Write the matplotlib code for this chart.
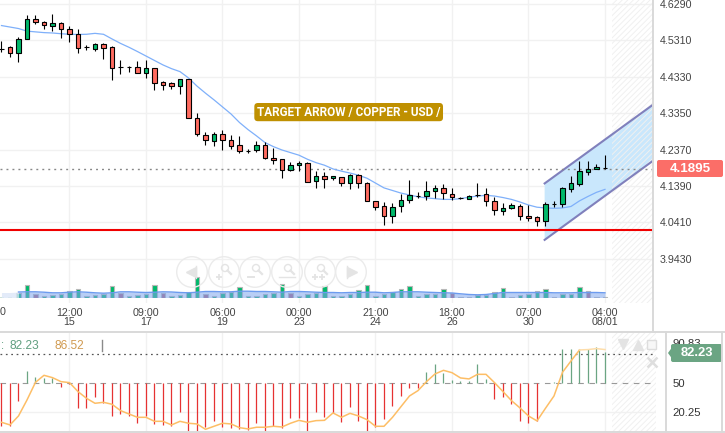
import matplotlib
matplotlib.use('Agg')
import matplotlib.pyplot as plt
from matplotlib.patches import Circle, FancyBboxPatch, Polygon, Rectangle

plt.rcParams['font.family'] = ['Liberation Sans', 'DejaVu Sans']
plt.rcParams['hatch.linewidth'] = 0.7

W, H = 725, 433

# candles, oldest first. upper/lower = body edges, doji have upper == lower
upper = [4.508, 4.513, 4.534, 4.588, 4.588, 4.580, 4.577, 4.577, 4.561, 4.548, 4.513, 4.521,
         4.521, 4.513, 4.459, 4.459, 4.459, 4.456, 4.456, 4.418, 4.416, 4.426, 4.426, 4.321,
         4.276, 4.278, 4.278, 4.262, 4.249, 4.233, 4.249, 4.249, 4.214, 4.211, 4.195, 4.200,
         4.200, 4.165, 4.165, 4.165, 4.163, 4.168, 4.168, 4.146, 4.098, 4.084, 4.082, 4.101,
         4.114, 4.113, 4.125, 4.133, 4.133, 4.117, 4.108, 4.111, 4.114, 4.117, 4.098, 4.079,
         4.087, 4.084, 4.058, 4.055, 4.090, 4.090, 4.133, 4.146, 4.179, 4.184, 4.189, 4.187]
lower = [4.508, 4.496, 4.496, 4.534, 4.580, 4.572, 4.571, 4.561, 4.548, 4.511, 4.513, 4.509,
         4.511, 4.456, 4.459, 4.459, 4.443, 4.443, 4.416, 4.412, 4.408, 4.408, 4.321, 4.278,
         4.262, 4.259, 4.262, 4.246, 4.233, 4.233, 4.235, 4.214, 4.208, 4.181, 4.181, 4.195,
         4.149, 4.152, 4.157, 4.160, 4.146, 4.146, 4.146, 4.098, 4.082, 4.058, 4.058, 4.084,
         4.101, 4.113, 4.111, 4.125, 4.119, 4.109, 4.108, 4.103, 4.114, 4.098, 4.074, 4.071,
         4.079, 4.058, 4.052, 4.044, 4.044, 4.090, 4.090, 4.130, 4.144, 4.176, 4.184, 4.187]
highs = [4.529, 4.516, 4.539, 4.599, 4.599, 4.584, 4.601, 4.581, 4.569, 4.561, 4.518, 4.524,
         4.524, 4.516, 4.478, 4.462, 4.475, 4.479, 4.456, 4.422, 4.418, 4.426, 4.426, 4.336,
         4.284, 4.284, 4.289, 4.276, 4.273, 4.238, 4.259, 4.257, 4.241, 4.211, 4.203, 4.206,
         4.203, 4.179, 4.176, 4.165, 4.163, 4.171, 4.171, 4.149, 4.098, 4.095, 4.093, 4.117,
         4.154, 4.122, 4.152, 4.141, 4.144, 4.133, 4.110, 4.114, 4.146, 4.133, 4.109, 4.093,
         4.093, 4.090, 4.087, 4.058, 4.095, 4.098, 4.136, 4.165, 4.206, 4.206, 4.198, 4.222]
lows = [4.500, 4.486, 4.474, 4.534, 4.575, 4.563, 4.555, 4.538, 4.528, 4.498, 4.505, 4.503,
        4.481, 4.424, 4.441, 4.446, 4.443, 4.430, 4.398, 4.398, 4.401, 4.387, 4.321, 4.274,
        4.249, 4.247, 4.237, 4.240, 4.227, 4.227, 4.231, 4.211, 4.198, 4.160, 4.179, 4.179,
        4.149, 4.133, 4.133, 4.154, 4.138, 4.130, 4.133, 4.098, 4.074, 4.033, 4.039, 4.068,
        4.093, 4.106, 4.101, 4.106, 4.103, 4.101, 4.103, 4.103, 4.109, 4.084, 4.060, 4.060,
        4.076, 4.047, 4.044, 4.031, 4.031, 4.082, 4.082, 4.122, 4.138, 4.168, 4.184, 4.184]
rising = [2, 3, 6, 11, 17, 21, 25, 30, 34, 35, 37, 39, 41, 46, 47, 48, 50, 51, 55, 59, 60,
          64, 66, 67, 68, 69, 70]

price_ma = [4.571, 4.567, 4.563, 4.556, 4.554, 4.552, 4.551, 4.549, 4.5475, 4.547, 4.5475, 4.550,
            4.5475, 4.535, 4.523, 4.5125, 4.501, 4.489, 4.477, 4.465, 4.455, 4.447, 4.430, 4.408,
            4.389, 4.371, 4.352, 4.333, 4.310, 4.291, 4.274, 4.256, 4.245, 4.236, 4.229, 4.222,
            4.211, 4.202, 4.195, 4.185, 4.179, 4.174, 4.168, 4.160, 4.147, 4.134, 4.127, 4.120,
            4.115, 4.110, 4.107, 4.105, 4.103, 4.103, 4.105, 4.109, 4.112, 4.114, 4.112, 4.108,
            4.103, 4.096, 4.088, 4.082, 4.080, 4.079, 4.080, 4.084, 4.099, 4.111, 4.122, 4.130]

volume = [0.8, 0.8, 4.7, 12.7, 4, 1.3, 2.3, 3.3, 6.7, 8.3, 1.3, 2.3, 3.3, 11.3, 4.7, 1.3, 2.3, 4,
          12.7, 4.7, 1.3, 2.3, 6, 20.7, 4, 1.3, 4.7, 5.3, 10.3, 1.3, 1.3, 3.3, 4.7, 13.3, 4.7, 1.3,
          3.3, 4.7, 11.7, 1.3, 1.3, 3.3, 7.3, 12.7, 1.3, 4, 5.7, 8.3, 11.7, 1.3, 3.3, 3.3, 8.3, 5,
          1, 1, 3, 2.3, 5.7, 9.3, 1, 2.7, 3.3, 6.3, 8.3, 1, 3.3, 4, 10.3, 6.7, 1, 1]
mauve_bars = [4, 14, 19, 24, 34, 53, 69]
vol_ma = [5, 5, 5.5, 5.7, 5.7, 5.3, 4.7, 4.7, 5.3, 5.7, 5.3, 4.7, 4.3, 4.7, 5.7, 5.7, 5.3, 5, 5.3, 5.7,
          5.5, 5, 4.7, 5.3, 6, 6, 5.7, 5.7, 6.3, 6.3, 6, 6, 5.7, 5.3, 6, 6, 5.7, 5.3, 5, 5,
          4.7, 5, 5, 5.3, 5.3, 4.7, 5, 5.7, 5.7, 5.7, 5.3, 5, 4.7, 4.5, 3.7, 3, 2.7, 3, 4, 5,
          5, 5, 5, 5, 5, 4.7, 4.7, 4.7, 5, 5, 5, 4.7]

osc_hist = [6.6, 6.6, 32.2, 62.7, 56.9, 55.1, 55.8, 46.6, 49.3, 25, 25, 36.3, 29.5, 16.8, 18.2, 16.8,
            9, 16.5, 8, 7.3, 6.6, 20.3, 1.4, 1.4, 4.9, 11.7, 4.9, 3.8, 2.8, 2.1, 9, 1.4, 6.2, 3.8,
            14.1, 14.8, 1.1, 20.3, 15.8, 19.2, 10, 26.1, 11.7, 0.6, 5.5, 13.1, 27.1, 37.4, 44.9, 45.6,
            61.3, 69.5, 60.6, 53.4, 52.4, 52.4, 69.5, 54.1, 33.6, 36.3, 28.5, 11.7, 9, 11.4, 50.7, 51,
            85.2, 85.2, 85.2, 85.2, 87.6, 82.23]
osc_line = [10, 7.3, 16.5, 32.9, 51, 58.2, 55.8, 51.7, 50.7, 41.5, 34.6, 29.5, 30.5, 28.5, 22, 18.5,
            15.1, 15.1, 11, 11, 7.3, 11, 9, 8.3, 2.8, 5.9, 9, 8.3, 4.5, 3.2, 4.9, 4.9, 5.9, 5.2,
            9, 12, 10, 11.7, 12, 19.6, 15.1, 19.2, 16.5, 12.7, 5.9, 5.9, 15.1, 26.1, 37, 42.5,
            51.7, 59.6, 63.3, 60.9, 55.5, 54.5, 59.2, 59.2, 50.7, 41.5, 32.2, 24.7, 16.5, 11.4, 24.4, 37,
            61.3, 72.9, 84.2, 84.6, 85.6, 84.6]

price_ticks = [4.6290, 4.5310, 4.4330, 4.3350, 4.2370, 4.1390, 4.0410, 3.9430]
time_ticks = [8, 17, 26, 35, 44, 53, 62, 71]
time_labels = ['12:00\n15', '09:00\n17', '06:00\n19', '00:00\n23', '21:00\n24', '18:00\n26', '07:00\n30',
               '04:00\n08/01']
osc_ticks = [90.83, 50, 20.25]

last_price = 4.1895
support = 4.021
channel_upper = [(63.9, 4.146), (76.65, 4.358)]
channel_lower = [(76.65, 4.207), (63.9, 3.994)]

GREEN, RED = '#00B96B', '#FF6B60'
GRID = '#F1F1F1'
BORDER = '#D9D9D9'
TEXT = '#444444'
BTN = '#E4E4E4'


def px_axes(fig, x0, y0, x1, y1):
    # rectangle given in image pixels, y going down
    return fig.add_axes([x0 / W, 1 - y1 / H, (x1 - x0) / W, (y1 - y0) / H])


fig = plt.figure(figsize=(W / 100, H / 100), dpi=100)
xs = list(range(len(upper)))

# price panel
ax = px_axes(fig, 0, 0, 653, 303)
ax.set_xlim(-0.176, 76.65)
ax.set_ylim(3.8241, 4.6398)
for s in ax.spines.values():
    s.set_visible(False)
ax.yaxis.tick_right()
ax.set_yticks(price_ticks, [f'{t:.4f}' for t in price_ticks])
ax.set_xticks(time_ticks, time_labels)
ax.tick_params(length=0, labelsize=7.7, labelcolor=TEXT)
ax.tick_params(axis='y', pad=5)
ax.tick_params(axis='x', pad=3.5)
for t in ax.get_xticklabels():
    t.set_linespacing(0.95)
ax.grid(color=GRID, linewidth=1)
ax.set_axisbelow(True)

ax.add_patch(Polygon(channel_upper + channel_lower, closed=True, facecolor='#C9E7FC', edgecolor='none', zorder=1))
ax.plot(*zip(*channel_upper), color='#8080BC', linewidth=1.5, zorder=2)
ax.plot(*zip(*channel_lower), color='#8080BC', linewidth=1.5, zorder=2)
ax.add_patch(Rectangle((71.8, 3.8241), 4.85, 0.82, facecolor='none', edgecolor='#F0F0F0', hatch='//////',
                       linewidth=0, zorder=1.5))

ax.axhline(4.185, color='#888888', linewidth=1, linestyle=(0, (1.4, 2.9)), zorder=2)
ax.plot(xs, price_ma, color='#7FB0FA', linewidth=0.9, zorder=2.5)
ax.vlines(xs, lows, highs, color='black', linewidth=0.8, zorder=3)
colors = [GREEN if i in rising else RED for i in xs]
ax.bar(xs, [u - l for u, l in zip(upper, lower)], bottom=lower, width=0.55, color=colors,
       edgecolor='black', linewidth=0.8, zorder=4)
ax.axhline(support, color='#F00000', linewidth=1.5, zorder=5)
ax.text(30.05, 4.338, 'TARGET ARROW / COPPER - USD /', color='white', fontsize=8.5, fontweight='bold',
        family='Roboto', ha='left', va='center', zorder=6,
        bbox=dict(boxstyle='round,pad=0.22,rounding_size=0.3', facecolor='#BF9000', edgecolor='none'))

# volume, same x as the price panel
vax = px_axes(fig, 0, 250, 653, 297.5)
vax.patch.set_alpha(0)
vax.set_xlim(-0.176, 76.65)
vax.set_ylim(0, 47.5)
vax.axis('off')
vcolors = ['#A9607D' if i in mauve_bars else GREEN for i in xs]
vax.bar(xs[2:], volume[2:], width=0.55, color=vcolors[2:], edgecolor='#B8B8B8', linewidth=0.8)
vax.bar(xs[:2], volume[:2], width=0.55, color='#CFE3DA', edgecolor='none')
vax.fill_between(xs[:3], 0, vol_ma[:3], color='#DCE7F8', alpha=0.8, linewidth=0)
vax.fill_between(xs[2:], 0, vol_ma[2:], color='#7EA6EE', alpha=0.55, linewidth=0)
vax.plot(xs[2:], vol_ma[2:], color='#6C9BEF', linewidth=1)

# oscillator panel
oax = px_axes(fig, 0, 333, 656, 431.5)
oax.set_xlim(-0.176, 77)
oax.set_ylim(0.55, 101.6)
for s in oax.spines.values():
    s.set_visible(False)
oax.yaxis.tick_right()
oax.set_yticks(osc_ticks, ['90.83', '50', '20.25'])
oax.set_xticks(time_ticks, [])
oax.tick_params(length=0, labelsize=8.2, labelcolor='#333333', pad=12)
oax.grid(color=GRID, linewidth=1)
oax.set_axisbelow(True)
oax.yaxis.grid(False)
oax.axhline(20.25, color=GRID, linewidth=1)
oax.add_patch(Rectangle((71.8, 0.55), 5.2, 101, facecolor='none', edgecolor='#F0F0F0', hatch='//////',
                        linewidth=0, zorder=1))
oax.axhline(50, color='#999999', linewidth=0.8, linestyle=(0, (5, 5)), zorder=2)
oax.axhline(79.75, color='#555555', linewidth=0.9, linestyle=(0, (1.4, 2.9)), zorder=2)
pos = [i for i in xs if osc_hist[i] >= 50]
neg = [i for i in xs if osc_hist[i] < 50]
oax.vlines(pos, 50, [osc_hist[i] for i in pos], color='#6BA583', linewidth=0.9, zorder=3)
oax.vlines(neg, [osc_hist[i] for i in neg], 50, color='#E63232', linewidth=0.9, zorder=3)
oax.plot(xs[:69], osc_line[:69], color='#FDBE66', linewidth=1.1, zorder=4)
oax.plot(xs[68:], osc_line[68:], color='#FDDDAA', linewidth=1.1, zorder=4)

# frame, price tags and chart buttons, in image pixels
ui = fig.add_axes([0, 0, 1, 1], zorder=10)
ui.set_xlim(0, W)
ui.set_ylim(H, 0)
ui.axis('off')
ui.patch.set_alpha(0)
ui.plot([653, 653], [0, 332], color=BORDER, linewidth=1.4)
ui.plot([0, W], [331.7, 331.7], color=BORDER, linewidth=1.4)
ui.plot([0, W], [432, 432], color=BORDER, linewidth=1.4)
ui.plot([666, 666], [332, 432], color=BORDER, linewidth=1.4)
ui.plot([722.5, 722.5], [332, 432], color=BORDER, linewidth=1.4)

ui.text(3, 312, '0', fontsize=7.7, color=TEXT, ha='center', va='center')

ui.add_patch(FancyBboxPatch((657, 160), 66, 17, boxstyle='round,pad=0,rounding_size=2', facecolor='#FB6E68',
                            edgecolor='none'))
ui.text(690, 168.5, f'{last_price:.4f}', color='white', fontsize=9.6, fontweight='bold', ha='center', va='center')

ui.add_patch(Polygon([(668, 353), (673, 346), (673, 360)], facecolor='#6BA583', edgecolor='none'))
ui.add_patch(FancyBboxPatch((671, 344), 51, 18, boxstyle='round,pad=0,rounding_size=2', facecolor='#6BA583',
                            edgecolor='none'))
ui.text(697, 353, f'{osc_hist[-1]:.2f}', color='white', fontsize=9.4, fontweight='bold', ha='center', va='center')

ui.text(1, 345.7, ':', color='#5F9E7F', fontsize=8.4, va='center')
ui.text(10, 345.7, '82.23', color='#5F9E7F', fontsize=8.6, va='center')
ui.text(55, 345.7, '86.52', color='#D09A50', fontsize=8.6, va='center')
ui.plot([102, 102], [340, 351], color='#8A8A8A', linewidth=1)

# zoom / pan buttons, barely visible in the reference
btn_x = [192, 224, 255, 287, 320, 351]
for cx in btn_x:
    ui.add_patch(Circle((cx, 272), 15.3, facecolor='none', edgecolor='#EBEBEB', linewidth=1))
for cx, sign in zip(btn_x[1:5], ['+', '-', '<>', '++']):
    ui.add_patch(Circle((cx + 1, 268), 3.5, facecolor='none', edgecolor=BTN, linewidth=1))
    ui.plot([cx + 3.5, cx + 7], [270.5, 274], color=BTN, linewidth=1.6)
    if sign == '<>':
        ui.plot([cx - 8, cx + 8], [277, 277], color=BTN, linewidth=1)
    elif sign == '-':
        ui.plot([cx - 7, cx - 1], [277, 277], color=BTN, linewidth=1.4)
    else:
        for k in range(len(sign)):
            ui.plot([cx - 5 + 7 * k], [277], marker='+', markersize=5, color=BTN, markeredgewidth=1.3)
ui.plot([191], [272], marker='<', markersize=7, color=BTN)
ui.plot([196, 196], [266, 278], color=BTN, linewidth=1)
ui.plot([352], [272], marker='>', markersize=7, color=BTN)
ui.plot([347, 347], [266, 278], color=BTN, linewidth=1)

ui.plot([623], [344], marker='v', markersize=7, color='#E3E3E3')
ui.plot([638], [345], marker='^', markersize=7, color='#E3E3E3')
ui.add_patch(Rectangle((647.5, 340), 9, 9, facecolor='#F7F7F7', edgecolor='#DDDDDD', linewidth=1))
ui.plot([652], [362], marker='x', markersize=7, color='#DEDEDE', markeredgewidth=1.8)

fig.savefig('out.png', dpi=100)
